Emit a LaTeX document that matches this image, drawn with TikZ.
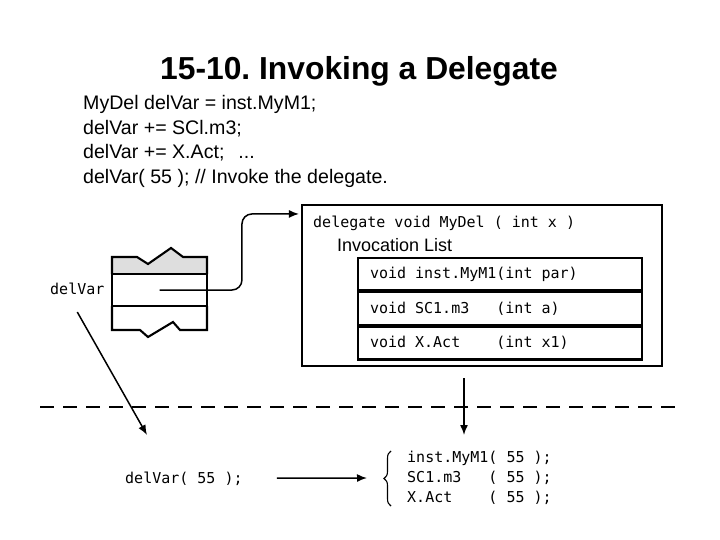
\documentclass[tikz,border=0pt]{standalone}
\usepackage{fontspec}
\setmainfont{Liberation Sans}
\setmonofont{DejaVu Sans Mono}
\usetikzlibrary{arrows.meta,decorations.pathreplacing,calc}
\frenchspacing
\begin{document}
\begin{tikzpicture}[x=1pt,y=-1pt,
  box/.style={draw, line width=2.1pt},
  arr/.style={line width=1.5pt, -{Latex[length=10pt,width=8pt]}},
  mono/.style={font=\fontsize{15}{18}\selectfont\ttfamily, inner sep=0pt},
  body/.style={font=\fontsize{19.6}{24.5}\selectfont, inner sep=0pt, anchor=base west},
  rowbox/.style={box, minimum width=284pt, minimum height=32.5pt,
    inner xsep=12pt, inner ysep=0pt, font=\fontsize{15}{18}\selectfont\ttfamily},
  cellfill/.style={fill=black!13}
]
\useasboundingbox (0,0) rectangle (720,540);

% title and code lines
\node[font=\fontsize{31.8}{36}\selectfont\bfseries, anchor=base, inner sep=0pt] (title) at (359,80) {15-10. Invoking a Delegate};
\node[body] (l1) at (83,110) {MyDel delVar = inst.MyM1;};
\node[body] (l2) at (83,134.5) {delVar += SCl.m3;};
\node[body] (l3) at (83,159) {delVar += X.Act;\hspace{14pt}...};
\node[body] (l4) at (83,183.5) {delVar( 55 ); // Invoke the delegate.};

% variable in memory
\node[mono, anchor=west] (dv) at (50,289) {delVar};
\fill[cellfill] (112,257) -- (137,257) -- (148,264) -- (171,248) -- (183,257) -- (207,257) -- (207,274) -- (112,274) -- cycle;
\draw[box, line join=miter] (112,274) -- (112,257) -- (137,257) -- (148,264) -- (171,248) -- (183,257) -- (207,257) -- (207,274);
\node[box, minimum width=95pt, minimum height=32pt, inner sep=0pt] (cell) at (159.5,290) {};
\draw[box] (112,306) -- (112,330) -- (140,330) -- (148,337) -- (173,322) -- (180,330) -- (207,330) -- (207,306);

% delegate object
\node[box, minimum width=360pt, minimum height=161pt, inner sep=0pt] (delbox) at (482,285.5) {};
\node[mono, anchor=base west] (hdr) at (313,228) {delegate void MyDel ( int x )};
\node[font=\fontsize{18}{20}\selectfont, anchor=base west, inner sep=0pt] (inv) at (337,251.5) {Invocation List};
\node[rowbox] (r1) at (500,274) {\makebox[260pt][l]{void inst.MyM1(int par)}};
\node[rowbox, anchor=north] (r2) at (r1.south) {\makebox[260pt][l]{void SC1.m3\ \ \ (int a)}};
\node[rowbox, anchor=north] (r3) at (r2.south) {\makebox[260pt][l]{void X.Act\ \ \ \ (int x1)}};

\coordinate (refend) at ($(delbox.north west)+(-2,10)$);
\draw[arr, rounded corners=10pt] (cell.center) -| ($(delbox.north west)+(-59,10)$) -- (refend);

% separator
\coordinate (sepl) at (40,407);
\coordinate (sepr) at (675,407);
\draw[line width=2pt, dash pattern=on 14pt off 9pt] (sepl) -- (sepr);

% invocation
\node[mono, anchor=base west] (call) at (125,483) {delVar( 55 );};
\coordinate (t1) at (147,435);
\draw[arr] (dv.south) ++(0,17) -- (t1);
\coordinate (t2) at (464,435);
\draw[arr] ($(delbox.south)+(-18,11)$) -- (t2);
\coordinate (t3) at (367,478);
\draw[arr, shorten <=34pt] (call.east) -- (t3);

\draw[line width=1.1pt, decorate, decoration={brace, amplitude=7pt}] (391,506) -- (391,451);
\node[mono, anchor=base west] (c1) at (407,462) {inst.MyM1( 55 );};
\node[mono, anchor=base west] (c2) at (407,482) {SC1.m3\ \ \ ( 55 );};
\node[mono, anchor=base west] (c3) at (407,502) {X.Act\ \ \ \ ( 55 );};
\end{tikzpicture}
\end{document}
